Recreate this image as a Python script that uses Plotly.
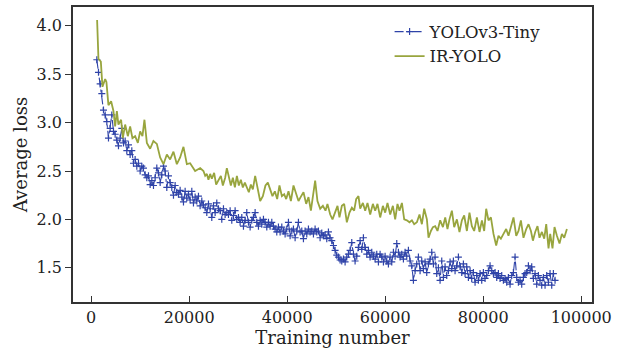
import plotly.graph_objects as go

# ---------------- data ----------------
blue_start = 1160
blue_step = 340
blue_loss = [
    3.65, 3.52, 3.40, 3.30, 3.13, 3.08, 3.01, 2.84, 2.94, 3.08,
    2.91, 2.88, 2.82, 2.76, 2.84, 2.94, 2.79, 2.81, 2.71, 2.77,
    2.67, 2.71, 2.58, 2.62, 2.55, 2.58, 2.50, 2.55, 2.53, 2.46,
    2.43, 2.45, 2.36, 2.40, 2.35, 2.43, 2.53, 2.48, 2.38, 2.46,
    2.55, 2.50, 2.33, 2.45, 2.38, 2.33, 2.25, 2.35, 2.28, 2.26,
    2.30, 2.23, 2.18, 2.29, 2.22, 2.26, 2.20, 2.29, 2.17, 2.23,
    2.19, 2.24, 2.14, 2.19, 2.15, 2.12, 2.07, 2.16, 2.11, 2.02,
    2.14, 2.07, 2.17, 2.11, 2.09, 2.00, 2.11, 2.05, 2.07, 2.05,
    2.09, 1.99, 2.04, 2.09, 2.00, 2.02, 1.97, 2.02, 1.93, 1.99,
    2.07, 1.97, 1.92, 1.99, 2.02, 2.07, 1.97, 1.93, 1.99, 1.95,
    2.00, 1.97, 1.92, 1.97, 1.93, 1.97, 1.93, 1.90, 1.87, 1.92,
    1.87, 1.92, 1.88, 1.85, 1.90, 1.97, 1.83, 1.88, 1.90, 1.81,
    1.88, 1.97, 1.87, 1.88, 1.80, 1.88, 1.85, 1.90, 1.87, 1.88,
    1.85, 1.90, 1.87, 1.88, 1.81, 1.86, 1.83, 1.84, 1.80, 1.87,
    1.81, 1.78, 1.73, 1.68, 1.63, 1.61, 1.58, 1.57, 1.59, 1.56,
    1.61, 1.64, 1.68, 1.76, 1.64, 1.57, 1.62, 1.71, 1.78, 1.69,
    1.81, 1.71, 1.64, 1.68, 1.61, 1.66, 1.62, 1.59, 1.64, 1.56,
    1.64, 1.61, 1.56, 1.62, 1.57, 1.54, 1.61, 1.56, 1.66, 1.62,
    1.75, 1.66, 1.61, 1.64, 1.59, 1.66, 1.62, 1.68, 1.57, 1.52,
    1.37, 1.47, 1.54, 1.61, 1.47, 1.57, 1.49, 1.56, 1.45, 1.54,
    1.59, 1.66, 1.54, 1.61, 1.44, 1.50, 1.37, 1.57, 1.40, 1.51,
    1.42, 1.47, 1.56, 1.49, 1.57, 1.47, 1.52, 1.61, 1.51, 1.45,
    1.54, 1.44, 1.51, 1.40, 1.47, 1.39, 1.45, 1.35, 1.42, 1.37,
    1.44, 1.37, 1.45, 1.39, 1.42, 1.47, 1.52, 1.47, 1.44, 1.45,
    1.40, 1.44, 1.39, 1.42, 1.37, 1.39, 1.35, 1.40, 1.33, 1.42,
    1.45, 1.61, 1.40, 1.35, 1.37, 1.33, 1.40, 1.44, 1.45, 1.52,
    1.47, 1.51, 1.39, 1.44, 1.33, 1.42, 1.37, 1.32, 1.40, 1.32,
    1.42, 1.35, 1.44, 1.32, 1.44, 1.37,
]
blue_iters = [blue_start + blue_step * i for i in range(len(blue_loss))]

green_iters = [
    1220, 1490, 1980, 2310, 2860, 3120, 3530, 4080, 4550, 4900,
    5250, 5570, 6120, 6470, 6940, 7490, 7960, 8430, 8980, 9530,
    10000, 10470, 10880, 11370, 12040, 12710, 13410, 14080, 14760, 15450,
    16120, 16800, 17490, 18160, 18840, 19530, 20200, 21220, 22250, 22920,
    23270, 23610, 23940, 24290, 24630, 25100, 25510, 25980, 26470, 26880,
    27350, 27690, 28100, 28510, 28920, 29330, 29740, 30140, 30550, 30960,
    31370, 31780, 32180, 32590, 33000, 33470, 33940, 34490, 35040, 35570,
    36060, 36530, 37000, 37490, 37960, 38430, 38920, 39390, 39800, 40270,
    40760, 41290, 41780, 42310, 42860, 43330, 43880, 44350, 44840, 45250,
    45710, 46180, 46740, 47290, 47820, 48220, 48780, 49250, 49800, 50270,
    50670, 51160, 51630, 52180, 52710, 53200, 53670, 54080, 54550, 54900,
    55450, 55920, 56390, 56940, 57490, 57960, 58430, 58980, 59530, 60000,
    60470, 61020, 61570, 62040, 62510, 62920, 63410, 63880, 64430, 64960,
    65450, 65920, 66470, 67000, 67490, 67960, 68510, 68840, 69330, 69740,
    70200, 70670, 71220, 71780, 72250, 72710, 73120, 73610, 74080, 74630,
    75160, 75650, 76120, 76670, 77200, 77690, 78160, 78710, 79250, 79740,
    80200, 80610, 81080, 81570, 82100, 82650, 83120, 83610, 84140, 84690,
    85160, 85650, 86180, 86740, 87200, 87690, 88220, 88780, 89250, 89740,
    90140, 90610, 91080, 91490, 91980, 92450, 92860, 93330, 93670, 94140,
    94550, 95040, 95570, 96060, 96530, 97080,
]
green_loss = [
    4.06, 3.66, 3.63, 3.37, 3.45, 3.42, 3.18, 3.22, 3.12, 2.96,
    3.12, 2.98, 3.03, 2.84, 2.98, 2.86, 2.96, 2.84, 2.86, 2.79,
    2.91, 2.86, 3.03, 2.79, 2.73, 2.81, 2.78, 2.64, 2.57, 2.67,
    2.62, 2.70, 2.57, 2.64, 2.75, 2.57, 2.58, 2.50, 2.53, 2.50,
    2.45, 2.47, 2.41, 2.47, 2.42, 2.48, 2.36, 2.41, 2.45, 2.35,
    2.43, 2.53, 2.43, 2.35, 2.43, 2.33, 2.45, 2.35, 2.41, 2.33,
    2.38, 2.33, 2.28, 2.36, 2.31, 2.45, 2.33, 2.19, 2.24, 2.35,
    2.38, 2.31, 2.24, 2.29, 2.21, 2.35, 2.24, 2.26, 2.21, 2.29,
    2.19, 2.35, 2.28, 2.19, 2.24, 2.28, 2.16, 2.23, 2.09, 2.23,
    2.40, 2.19, 2.11, 2.14, 2.09, 2.16, 2.05, 2.00, 2.07, 2.14,
    2.02, 2.14, 2.16, 1.97, 2.07, 2.12, 2.09, 2.21, 2.24, 2.11,
    2.17, 2.09, 2.17, 2.05, 2.16, 2.09, 2.16, 2.02, 2.14, 2.07,
    2.17, 2.05, 2.14, 2.00, 2.16, 2.09, 2.17, 2.00, 1.99, 1.97,
    1.99, 1.95, 1.97, 2.05, 1.95, 2.11, 2.00, 1.81, 1.88, 1.92,
    1.93, 1.88, 1.99, 1.92, 2.02, 1.90, 2.00, 2.09, 1.92, 2.00,
    1.87, 1.99, 2.04, 1.88, 2.07, 1.93, 1.88, 2.02, 1.87, 1.99,
    1.88, 2.11, 1.99, 2.02, 1.85, 1.73, 1.83, 1.80, 1.85, 1.90,
    1.83, 1.93, 2.02, 1.83, 1.88, 1.99, 1.81, 1.90, 1.95, 1.88,
    1.78, 1.87, 1.93, 1.81, 1.87, 1.80, 1.95, 1.70, 1.85, 1.70,
    1.92, 1.83, 1.75, 1.85, 1.81, 1.90,
]

series_names = ["YOLOv3-Tiny", "IR-YOLO"]
x_tick_vals = [0, 20000, 40000, 60000, 80000, 100000]
x_tick_text = ["0", "20000", "40000", "60000", "80000", "100000"]
y_tick_vals = [1.5, 2.0, 2.5, 3.0, 3.5, 4.0]
y_tick_text = ["1.5", "2.0", "2.5", "3.0", "3.5", "4.0"]
x_title = "Training number"
y_title = "Average loss"

# ---------------- styles ----------------
BLUE = "#2F43A8"
GREEN = "#98A53E"
FONT = "DejaVu Serif"
AXIS_COLOR = "#333333"
TEXT_COLOR = "#222222"

fig = go.Figure()
fig.add_trace(go.Scatter(
    x=blue_iters, y=blue_loss, name=series_names[0],
    mode="lines+markers",
    line=dict(color=BLUE, width=1.1, dash="dashdot"),
    marker=dict(symbol="cross-thin", size=5, color=BLUE,
                line=dict(color=BLUE, width=1.2)),
))
fig.add_trace(go.Scatter(
    x=green_iters, y=green_loss, name=series_names[1],
    mode="lines",
    line=dict(color=GREEN, width=1.8),
))

fig.update_layout(
    width=624, height=350,
    margin=dict(l=73, r=32, t=5, b=48),
    paper_bgcolor="white", plot_bgcolor="white",
    font=dict(family=FONT, size=16, color=TEXT_COLOR),
    showlegend=True,
    legend=dict(
        x=0.61, y=0.975, xanchor="left", yanchor="top",
        bgcolor="rgba(0,0,0,0)", borderwidth=0,
        font=dict(family=FONT, size=16.5, color=TEXT_COLOR),
        itemwidth=30, tracegroupgap=0,
    ),
)
fig.update_xaxes(
    range=[-3700, 102200],
    tickvals=x_tick_vals, ticktext=x_tick_text,
    ticks="inside", ticklen=6, tickwidth=1, tickcolor=AXIS_COLOR,
    showline=True, linecolor=AXIS_COLOR, linewidth=1.5, mirror=True,
    showgrid=False, zeroline=False,
    title=dict(text=x_title, font=dict(family=FONT, size=18), standoff=0),
    tickfont=dict(family=FONT, size=16),
)
fig.update_yaxes(
    range=[1.146, 4.195],
    tickvals=y_tick_vals, ticktext=y_tick_text,
    ticks="outside", ticklen=6, tickwidth=1, tickcolor=AXIS_COLOR,
    showline=True, linecolor=AXIS_COLOR, linewidth=1.5, mirror=True,
    showgrid=False, zeroline=False,
    title=dict(text=y_title, font=dict(family=FONT, size=18), standoff=4),
    tickfont=dict(family=FONT, size=16),
)

fig.write_html("out.html")
